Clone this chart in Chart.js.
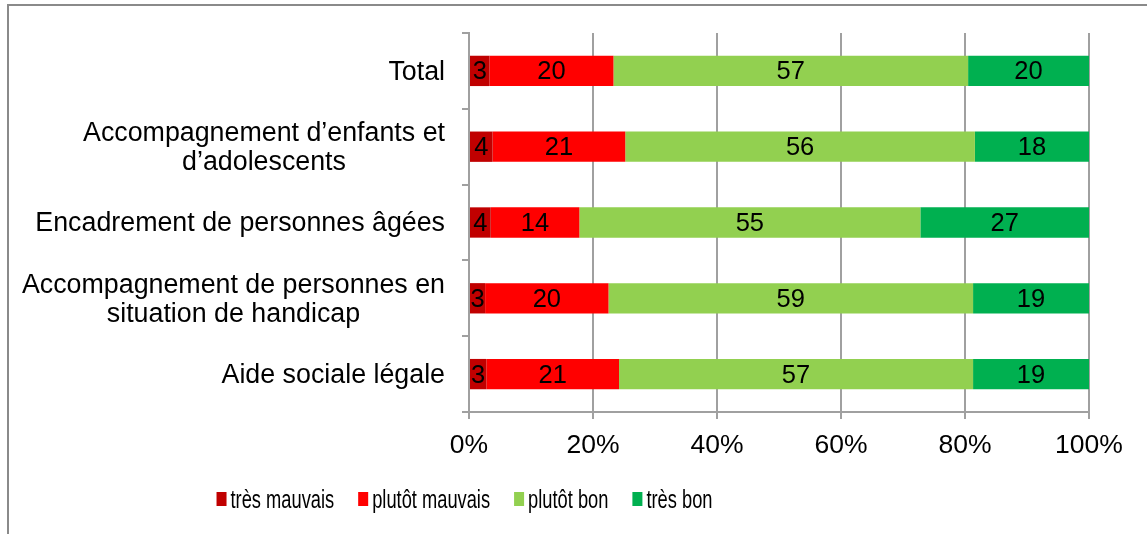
<!DOCTYPE html>
<html><head><meta charset="utf-8">
<style>
html,body{margin:0;padding:0;background:#fff;}
#wrap{position:relative;width:1147px;height:534px;overflow:hidden;background:#fff;}
#frame{position:absolute;left:7px;top:4px;width:1200px;height:600px;border-top:2px solid #8a8a8a;border-left:2px solid #8a8a8a;}
canvas{position:absolute;left:0;top:0;}
</style>
<script src="https://cdn.jsdelivr.net/npm/chart.js@4"></script>
</head><body><div id="wrap"><div id="frame"></div><canvas id="c" width="1147" height="534"></canvas></div>
<script>
const categories = [
  ["Total"],
  ["Accompagnement d’enfants et", "d’adolescents"],
  ["Encadrement de personnes âgées"],
  ["Accompagnement de personnes en", "situation de handicap"],
  ["Aide sociale légale"]
];
const seriesNames = ["très mauvais", "plutôt mauvais", "plutôt bon", "très bon"];
const tresMauvais   = [3.3, 3.8, 3.5, 2.6, 2.8];
const plutotMauvais = [20.0, 21.4, 14.3, 19.9, 21.4];
const plutotBon     = [57.2, 56.4, 55.0, 58.8, 57.1];
const tresBon       = [19.5, 18.4, 27.2, 18.7, 18.7];
const xTicks = [0, 20, 40, 60, 80, 100];
const colors = ["#C00000", "#FF0000", "#92D050", "#00B050"];

const FONT = '"Liberation Sans", Arial, sans-serif';
const GRID = '#a0a0a0';

const valueLabels = {
  id: 'valueLabels',
  afterDatasetsDraw(chart) {
    const ctx = chart.ctx;
    ctx.save();
    ctx.font = '25.5px ' + FONT;
    ctx.fillStyle = '#000';
    ctx.textAlign = 'center';
    ctx.textBaseline = 'middle';
    chart.data.datasets.forEach((ds, i) => {
      chart.getDatasetMeta(i).data.forEach((bar, j) => {
        const p = bar.getProps(['x', 'y', 'base'], true);
        ctx.fillText(String(Math.round(ds.data[j])), (p.x + p.base) / 2, p.y + 1.5);
      });
    });
    ctx.restore();
  }
};

const yLabels = {
  id: 'yLabels',
  afterDraw(chart) {
    const ctx = chart.ctx, ys = chart.scales.y;
    ctx.save();
    ctx.font = '26.8px ' + FONT;
    ctx.fillStyle = '#000';
    ctx.textAlign = 'center';
    ctx.textBaseline = 'middle';
    const right = ys.right - 7 - 17;
    const lh = 29;
    categories.forEach((lines, i) => {
      const yc = ys.getPixelForValue(i);
      const bw = Math.max(...lines.map(l => ctx.measureText(l).width));
      const cx = right - bw / 2;
      lines.forEach((l, k) => {
        ctx.fillText(l, cx, yc + 1.5 + (k - (lines.length - 1) / 2) * lh);
      });
    });
    ctx.restore();
  }
};

const squishLegend = {
  id: 'squishLegend',
  afterDraw(chart) {
    const ctx = chart.ctx;
    const sx = 0.69, box = 14.5, gapBox = 4 / sx, gapItem = 24 / sx;
    ctx.save();
    ctx.font = '26.5px ' + FONT;
    const items = chart.data.datasets.map(d => ({ t: d.label, c: d.backgroundColor, w: ctx.measureText(d.label).width }));
    let total = items.reduce((s, it) => s + box + gapBox + it.w, 0) + gapItem * (items.length - 1);
    const cx = 464.5 / sx, y = 499;
    ctx.scale(sx, 1);
    let x = cx - total / 2;
    ctx.textBaseline = 'middle';
    ctx.textAlign = 'left';
    items.forEach(it => {
      ctx.fillStyle = it.c;
      ctx.fillRect(x, y - 7, box, 14);
      ctx.fillStyle = '#000';
      ctx.fillText(it.t, x + box + gapBox, y + 1.5);
      x += box + gapBox + it.w + gapItem;
    });
    ctx.restore();
  }
};

const seriesData = [tresMauvais, plutotMauvais, plutotBon, tresBon];

new Chart(document.getElementById('c'), {
  type: 'bar',
  data: {
    labels: categories.map(c => c.join(' ')),
    datasets: seriesNames.map((n, i) => ({
      label: n,
      data: seriesData[i],
      backgroundColor: colors[i],
      borderWidth: 0,
      categoryPercentage: 1,
      barPercentage: 0.4
    }))
  },
  options: {
    indexAxis: 'y',
    responsive: false,
    animation: false,
    devicePixelRatio: 1,
    layout: { padding: { left: 0, right: 58, top: 33, bottom: 0 } },
    plugins: { legend: { display: false }, tooltip: { enabled: false } },
    scales: {
      x: {
        type: 'linear', stacked: true, min: 0, max: 100, position: 'bottom',
        afterBuildTicks(s) { s.ticks = xTicks.map(v => ({ value: v })); },
        ticks: { color: '#000', font: { size: 26.5, family: FONT }, padding: 11, maxRotation: 0, callback: v => v + '%' },
        grid: { color: GRID, lineWidth: 2, tickLength: 7, drawTicks: true },
        border: { color: GRID, width: 2 },
        afterFit(s) { s.height = 122; }
      },
      y: {
        type: 'category', stacked: true,
        ticks: { display: false },
        grid: { drawOnChartArea: false, drawTicks: true, tickLength: 7, color: GRID, lineWidth: 2, offset: true },
        border: { color: GRID, width: 2 },
        afterFit(s) { s.width = 469; }
      }
    }
  },
  plugins: [valueLabels, yLabels, squishLegend]
});
</script>
</body></html>
